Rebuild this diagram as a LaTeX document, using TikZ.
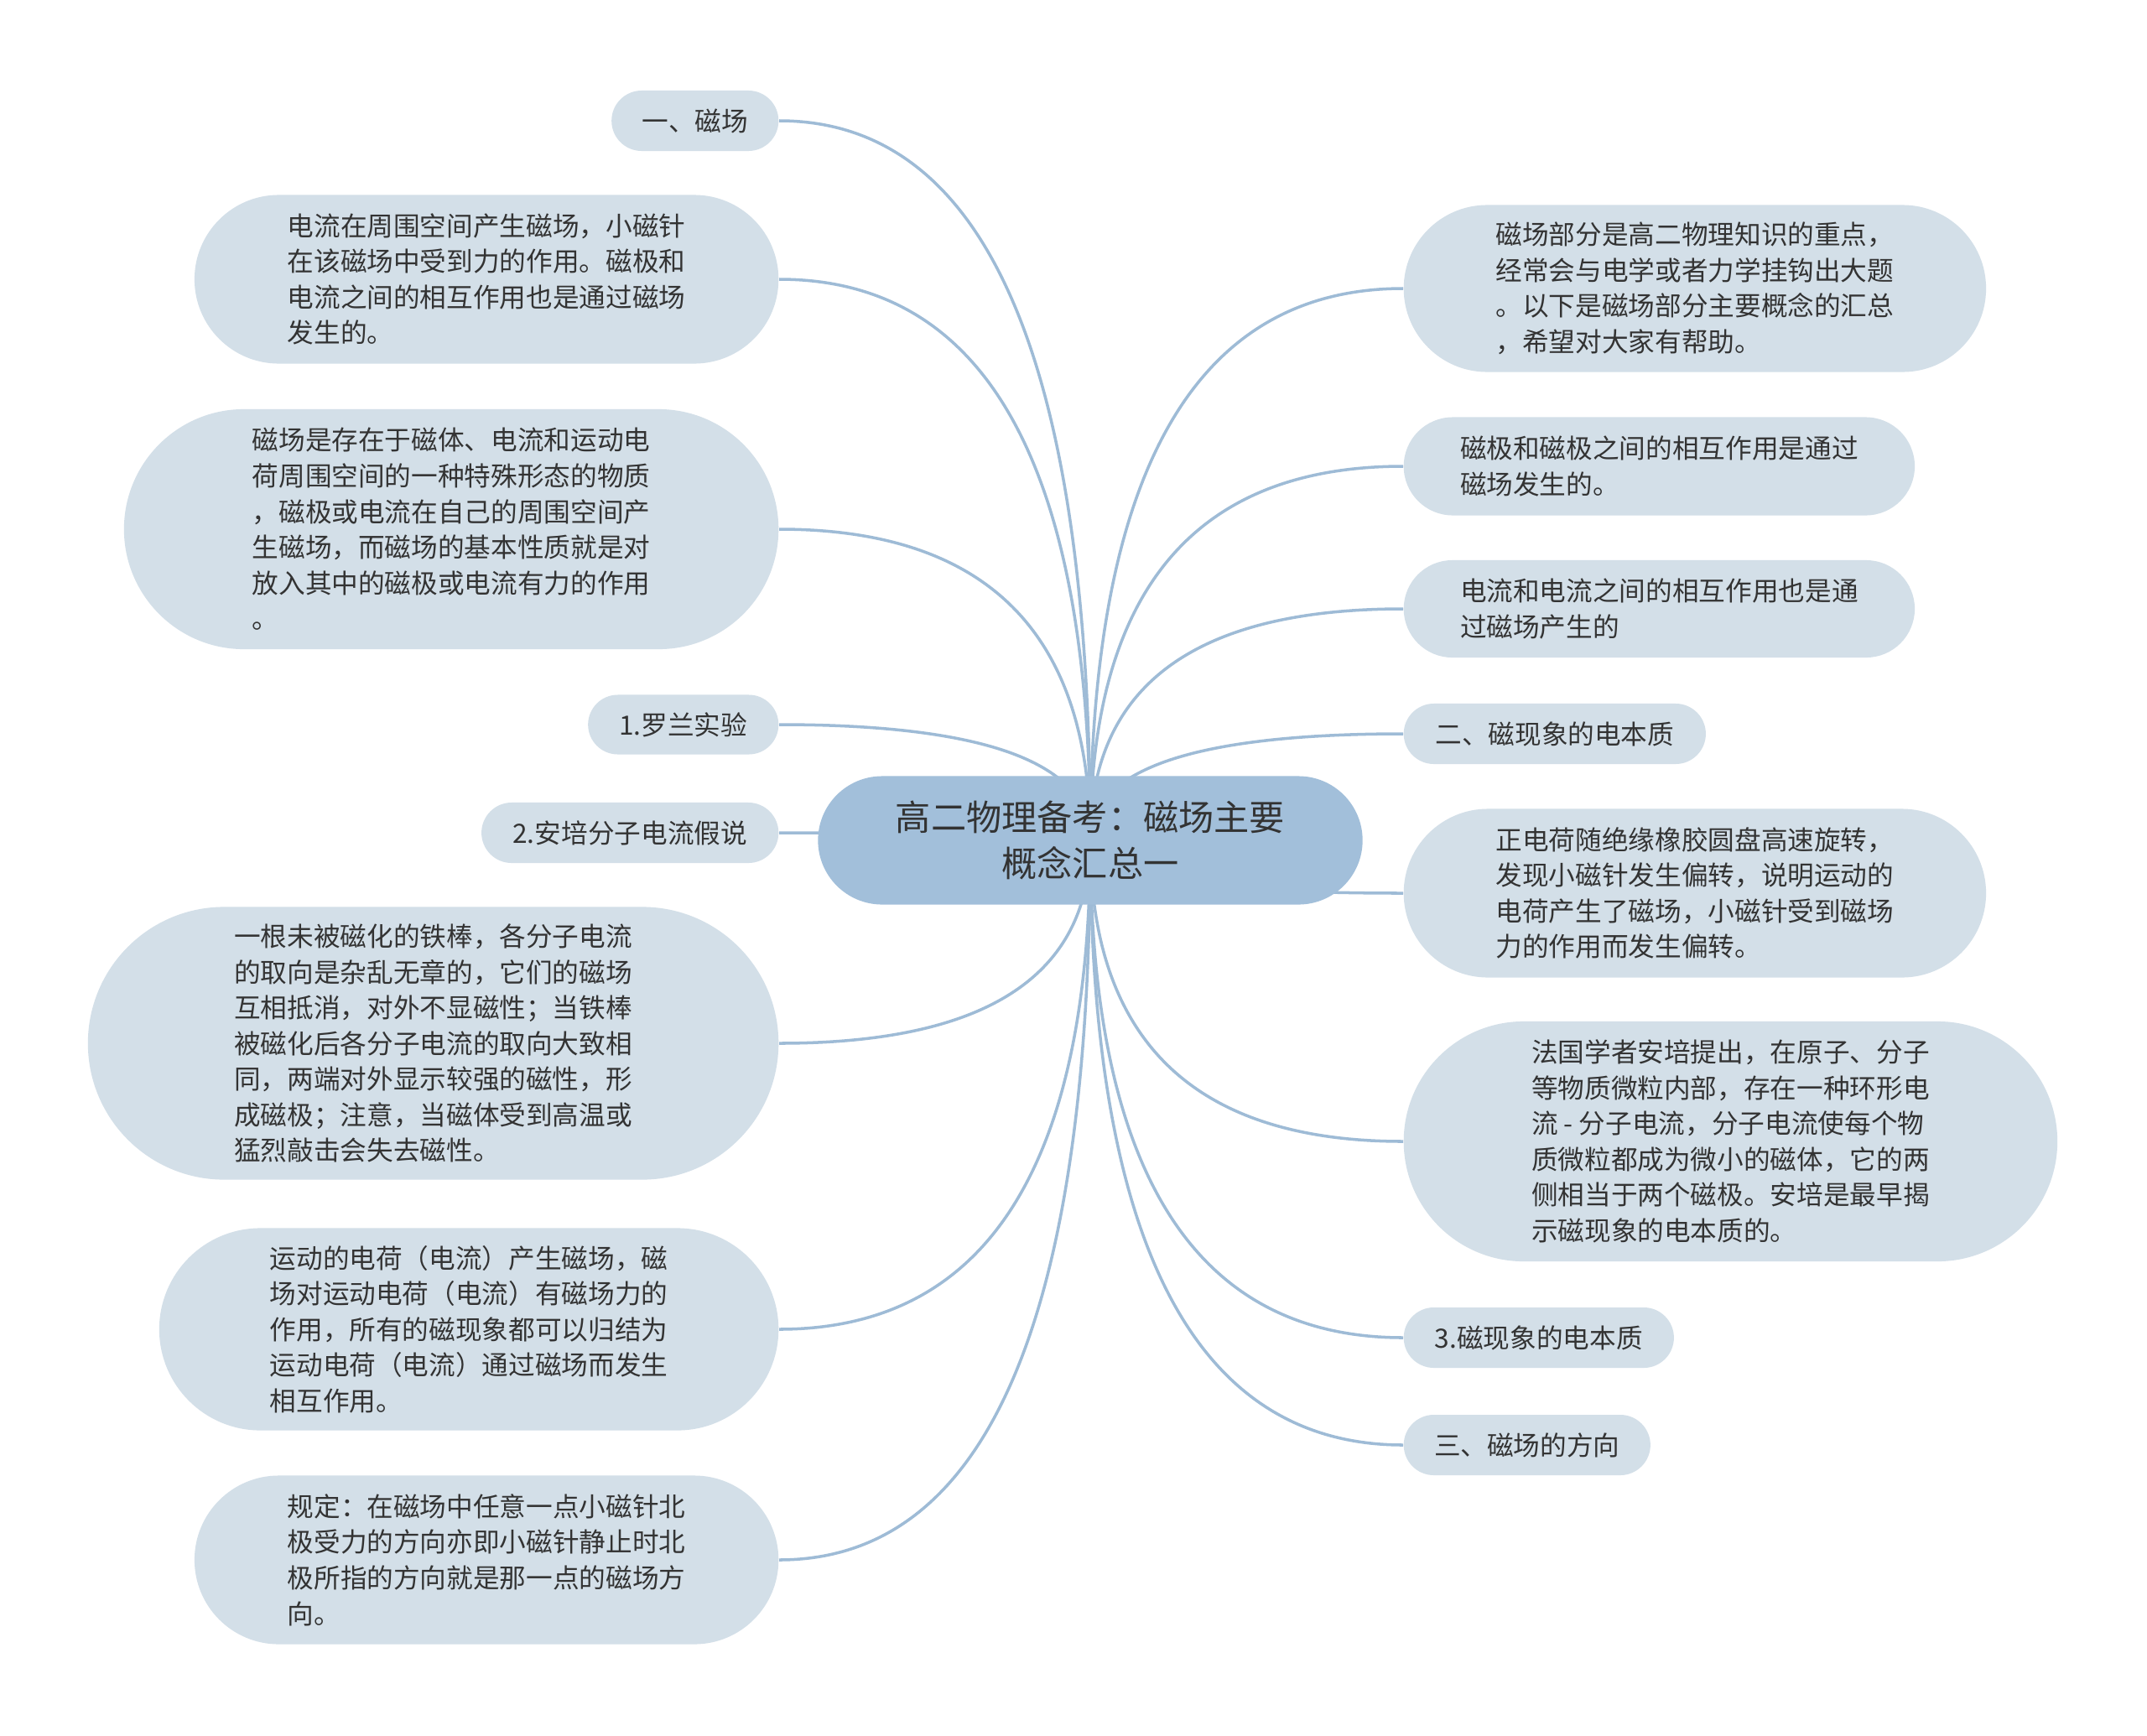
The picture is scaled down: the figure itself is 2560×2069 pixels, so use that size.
\documentclass[tikz,border=0pt]{standalone}
\usepackage{fontspec}
\usepackage{tikz}
\usetikzlibrary{calc,backgrounds}
\newfontfamily\cjk{Noto Sans CJK SC}
\definecolor{leafblue}{HTML}{D3DFE8}
\definecolor{rootblue}{HTML}{A2BFDA}
\definecolor{linkblue}{HTML}{9EBBD6}
\definecolor{inkgray}{HTML}{333333}

\begin{document}
\begin{tikzpicture}[x=0.01cm, y=-0.01cm,
    every node/.style={text=inkgray, inner sep=0pt},
    leaf/.style 2 args={fill=leafblue, align=left, minimum width=#1, minimum height=#2,
        rounded corners={#2/2}, font=\cjk\fontsize{9}{12.1}\selectfont},
    hub/.style={fill=rootblue, align=center, minimum width=6.49cm, minimum height=1.53cm,
        rounded corners=0.765cm, font=\cjk\fontsize{12}{15.8}\selectfont},
    link/.style={draw=linkblue, line width=1pt,
        to path={.. controls ($(\tikztostart)!2/3!(\tikztostart |- \tikztotarget)$)
            and ($(\tikztotarget)!2/3!(\tikztostart |- \tikztotarget)$) .. (\tikztotarget)}}]
    \useasboundingbox (0,0) rectangle (2560,2069);
    % centre
    \node[hub] (root) at (1300,1002) {高二物理备考：磁场主要\\概念汇总一};
    % left branch
    \node[leaf={1.99cm}{0.72cm}, anchor=east] (l1) at (929,144) {一、磁场};
    \node[leaf={6.96cm}{2.01cm}, anchor=east] (l2) at (929,333) {电流在周围空间产生磁场，小磁针\\在该磁场中受到力的作用。磁极和\\电流之间的相互作用也是通过磁场\\发生的。};
    \node[leaf={7.80cm}{2.86cm}, anchor=east] (l3) at (929,631) {磁场是存在于磁体、电流和运动电\\荷周围空间的一种特殊形态的物质\\，磁极或电流在自己的周围空间产\\生磁场，而磁场的基本性质就是对\\放入其中的磁极或电流有力的作用\\。};
    \node[leaf={2.27cm}{0.71cm}, anchor=east] (l4) at (929,864) {1.罗兰实验};
    \node[leaf={3.54cm}{0.72cm}, anchor=east] (l5) at (929,993) {2.安培分子电流假说};
    \node[leaf={8.23cm}{3.25cm}, anchor=east] (l6) at (929,1244) {一根未被磁化的铁棒，各分子电流\\的取向是杂乱无章的，它们的磁场\\互相抵消，对外不显磁性；当铁棒\\被磁化后各分子电流的取向大致相\\同，两端对外显示较强的磁性，形\\成磁极；注意，当磁体受到高温或\\猛烈敲击会失去磁性。};
    \node[leaf={7.38cm}{2.41cm}, anchor=east] (l7) at (929,1585) {运动的电荷（电流）产生磁场，磁\\场对运动电荷（电流）有磁场力的\\作用，所有的磁现象都可以归结为\\运动电荷（电流）通过磁场而发生\\相互作用。};
    \node[leaf={6.96cm}{2.01cm}, anchor=east] (l8) at (929,1860) {规定：在磁场中任意一点小磁针北\\极受力的方向亦即小磁针静止时北\\极所指的方向就是那一点的磁场方\\向。};
    % right branch
    \node[leaf={6.94cm}{1.99cm}, anchor=west] (r1) at (1673,344) {磁场部分是高二物理知识的重点，\\经常会与电学或者力学挂钩出大题\\。以下是磁场部分主要概念的汇总\\，希望对大家有帮助。};
    \node[leaf={6.09cm}{1.17cm}, anchor=west] (r2) at (1673,556) {磁极和磁极之间的相互作用是通过\\磁场发生的。};
    \node[leaf={6.09cm}{1.16cm}, anchor=west] (r3) at (1673,726) {电流和电流之间的相互作用也是通\\过磁场产生的};
    \node[leaf={3.60cm}{0.72cm}, anchor=west] (r4) at (1673,875) {二、磁现象的电本质};
    \node[leaf={6.94cm}{2.01cm}, anchor=west] (r5) at (1673,1065) {正电荷随绝缘橡胶圆盘高速旋转，\\发现小磁针发生偏转，说明运动的\\电荷产生了磁场，小磁针受到磁场\\力的作用而发生偏转。};
    \node[leaf={7.79cm}{2.86cm}, anchor=west] (r6) at (1673,1361) {法国学者安培提出，在原子、分子\\等物质微粒内部，存在一种环形电\\流 - 分子电流，分子电流使每个物\\质微粒都成为微小的磁体，它的两\\侧相当于两个磁极。安培是最早揭\\示磁现象的电本质的。};
    \node[leaf={3.22cm}{0.72cm}, anchor=west] (r7) at (1673,1595) {3.磁现象的电本质};
    \node[leaf={2.94cm}{0.72cm}, anchor=west] (r8) at (1673,1723) {三、磁场的方向};
    % connectors sit under the boxes
    \begin{scope}[on background layer]
    \fill[white] (0,0) rectangle (2560,2069);
    \draw[link] (root.center) to (l1.east);
    \draw[link] (root.center) to (l2.east);
    \draw[link] (root.center) to (l3.east);
    \draw[link] (root.center) to (l4.east);
    \draw[link] (root.center) to (l5.east);
    \draw[link] (root.center) to (l6.east);
    \draw[link] (root.center) to (l7.east);
    \draw[link] (root.center) to (l8.east);
    \draw[link] (root.center) to (r1.west);
    \draw[link] (root.center) to (r2.west);
    \draw[link] (root.center) to (r3.west);
    \draw[link] (root.center) to (r4.west);
    \draw[link] (root.center) to (r5.west);
    \draw[link] (root.center) to (r6.west);
    \draw[link] (root.center) to (r7.west);
    \draw[link] (root.center) to (r8.west);
    \end{scope}
\end{tikzpicture}
\end{document}
